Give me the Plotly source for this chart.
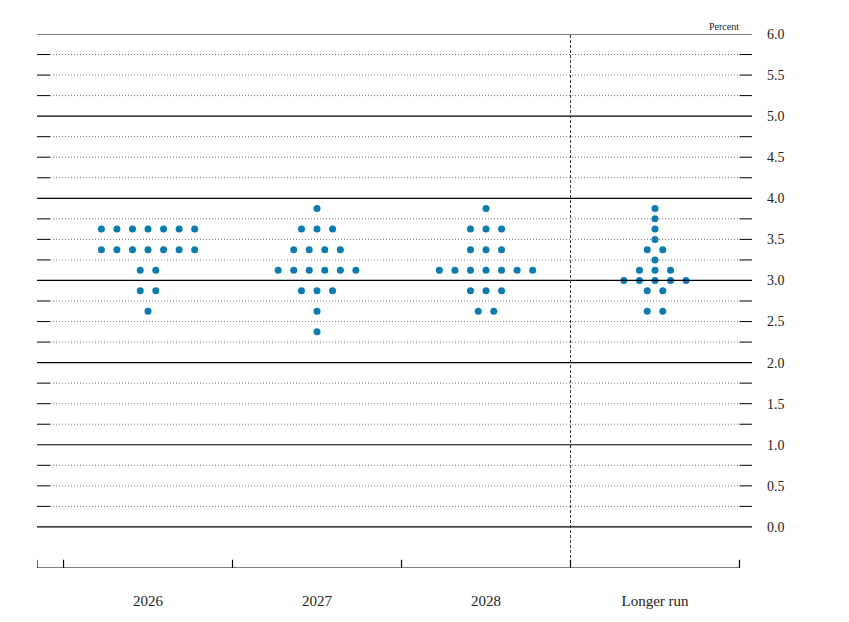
import plotly.graph_objects as go

categories = ["2026", "2027", "2028", "Longer run"]
rates = [3.875, 3.75, 3.625, 3.5, 3.375, 3.25, 3.125, 3.0, 2.875, 2.625, 2.375]
counts_2026 = [0, 0, 7, 0, 7, 0, 2, 0, 2, 1, 0]
counts_2027 = [1, 0, 3, 0, 4, 0, 6, 0, 3, 1, 1]
counts_2028 = [1, 0, 3, 0, 3, 0, 7, 0, 3, 2, 0]
counts_lr = [1, 1, 1, 1, 2, 1, 3, 5, 2, 2, 0]
all_counts = [counts_2026, counts_2027, counts_2028, counts_lr]
tick_vals = [i * 0.5 for i in range(13)]
tick_text = [f"{v:.1f}" for v in tick_vals]

SP = 0.092
xs, ys = [], []
for ci, counts in enumerate(all_counts):
    for r, n in zip(rates, counts):
        for j in range(n):
            xs.append(ci + (j - (n - 1) / 2) * SP)
            ys.append(r)

XL, XR = -0.657, 3.574
shapes = []
for k in range(25):
    y = k * 0.25
    if k % 4 == 0:
        shapes.append(dict(type="line", x0=XL, x1=XR, y0=y, y1=y, line=dict(color="black", width=1.2)))
    else:
        shapes.append(dict(type="line", x0=-0.58, x1=3.5, y0=y, y1=y, line=dict(color="#777", width=1, dash="1px,2px")))
        shapes.append(dict(type="line", x0=XL, x1=-0.58, y0=y, y1=y, line=dict(color="black", width=1)))
        shapes.append(dict(type="line", x0=3.5, x1=XR, y0=y, y1=y, line=dict(color="black", width=1)))
shapes.append(dict(type="line", x0=2.5, x1=2.5, y0=-0.5, y1=6.0, line=dict(color="#333", width=1, dash="3px,2px")))
shapes.append(dict(type="line", x0=XL, x1=3.5, y0=-0.5, y1=-0.5, line=dict(color="black", width=1.2)))
for xt in [XL, -0.5, 0.5, 1.5, 2.5, 3.5]:
    shapes.append(dict(type="line", x0=xt, x1=xt, y0=-0.5, y1=-0.4, line=dict(color="black", width=1.2)))

fig = go.Figure(go.Scatter(x=xs, y=ys, mode="markers",
                           marker=dict(color="#0b7bb0", size=7), hoverinfo="skip"))
fig.update_layout(
    width=849, height=622, plot_bgcolor="white", paper_bgcolor="white",
    margin=dict(l=29, r=105, t=26, b=62), showlegend=False, shapes=shapes,
    font=dict(family="Liberation Serif", color="#222"),
    xaxis=dict(range=[XL, XR], showgrid=False, zeroline=False, tickvals=[0, 1, 2, 3],
               ticktext=categories, ticks="", tickfont=dict(size=15), ticklabelstandoff=22),
    yaxis=dict(range=[-0.5, 6.0], side="right", showgrid=False, zeroline=False,
               tickvals=tick_vals, ticktext=tick_text, ticks="", tickfont=dict(size=14),
               ticklabelstandoff=14),
    annotations=[dict(text="Percent", xref="paper", yref="paper", x=0.985, y=1.0,
                      xanchor="right", yanchor="bottom", showarrow=False, font=dict(size=10))],
)
fig.write_html("out.html")
